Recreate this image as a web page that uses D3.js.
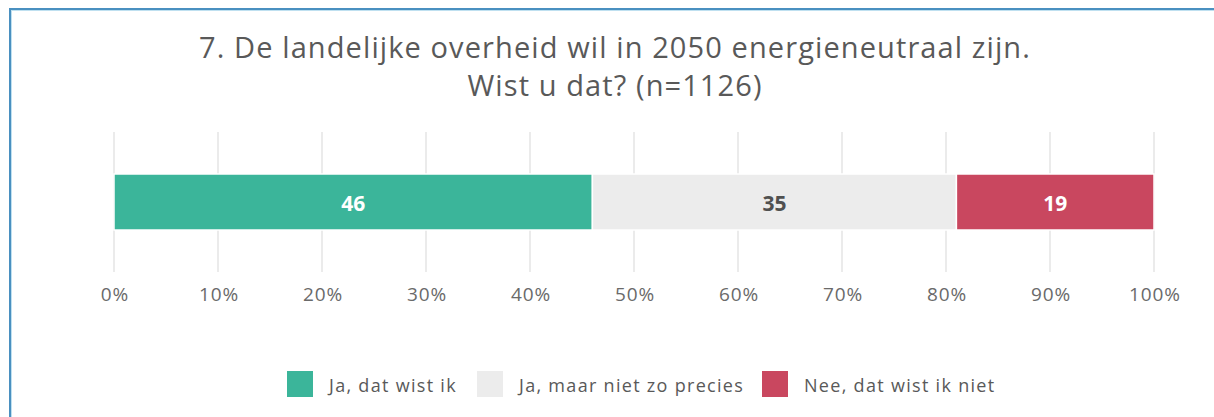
<!DOCTYPE html>
<html><head><meta charset="utf-8">
<script src="https://cdn.jsdelivr.net/npm/d3@7"></script>
<style>html,body{margin:0;padding:0;background:#fff;}svg{display:block;}</style>
</head><body>
<script>
const categories = ["Ja, dat wist ik", "Ja, maar niet zo precies", "Nee, dat wist ik niet"];
const values = [46, 35, 19];
const colors = ["#3bb59a", "#ececec", "#c9475f"];
const labelColors = ["#ffffff", "#505050", "#ffffff"];
const tickValues = [0, 10, 20, 30, 40, 50, 60, 70, 80, 90, 100];
const titleLines = ["7. De landelijke overheid wil in 2050 energieneutraal zijn.", "Wist u dat? (n=1126)"];

const W = 1214, H = 417;
const font = "'Open Sans', sans-serif";
const svg = d3.select("body").append("svg").attr("width", W).attr("height", H);

// frame
svg.append("rect").attr("x", 0).attr("y", 0).attr("width", W).attr("height", H).attr("fill", "#fff");
svg.append("line").attr("x1", 9).attr("x2", W).attr("y1", 9).attr("y2", 9).attr("stroke", "#4a90c0").attr("stroke-width", 2);
svg.append("line").attr("x1", 10).attr("x2", 10).attr("y1", 8).attr("y2", H).attr("stroke", "#4a90c0").attr("stroke-width", 2);
svg.append("line").attr("x1", 12).attr("x2", W).attr("y1", 10.5).attr("y2", 10.5).attr("stroke", "#bfe0f0").attr("stroke-width", 1);
svg.append("line").attr("x1", 11.5).attr("x2", 11.5).attr("y1", 10).attr("y2", H).attr("stroke", "#bfe0f0").attr("stroke-width", 1);

// title
svg.append("text").attr("text-anchor", "middle").attr("font-family", font)
  .attr("font-size", 29).attr("letter-spacing", "1.1px").attr("fill", "#595959")
  .selectAll("tspan").data(titleLines).join("tspan")
  .attr("x", 615).attr("y", (d, i) => 58 + i * 38).text(d => d);

const x = d3.scaleLinear().domain([0, 100]).range([114, 1154]);

// gridlines
svg.append("g").selectAll("line").data(tickValues).join("line")
  .attr("x1", d => x(d)).attr("x2", d => x(d)).attr("y1", 132).attr("y2", 272)
  .attr("stroke", "#e4e4e4").attr("stroke-width", 1.5);

// axis
const axis = d3.axisBottom(x).tickValues(tickValues).tickFormat(d => d + "%").tickSize(0).tickPadding(0);
const ag = svg.append("g").attr("transform", "translate(0,301)").call(axis);
ag.select(".domain").remove();
ag.selectAll("text").attr("font-family", font).attr("font-size", 19).attr("letter-spacing", "0.9px")
  .attr("fill", "#6a6a6a").attr("dy", "0").attr("dx", "0.45");

// stacked bar
let acc = 0;
const segs = values.map((v, i) => { const s = { i, v, x0: acc, x1: acc + v }; acc += v; return s; });
const barY = 174, barH = 56;
svg.append("g").selectAll("rect").data(segs).join("rect")
  .attr("x", d => x(d.x0)).attr("width", d => x(d.x1) - x(d.x0))
  .attr("y", barY).attr("height", barH).attr("fill", d => colors[d.i])
  .attr("stroke", "#fff").attr("stroke-width", 1.5);
svg.append("g").selectAll("text").data(segs).join("text")
  .attr("x", d => (x(d.x0) + x(d.x1)) / 2).attr("y", 211)
  .attr("text-anchor", "middle").attr("font-family", font).attr("font-weight", "bold")
  .attr("font-size", 21).attr("fill", d => labelColors[d.i]).text(d => d.v);

// legend
const legX = [287, 477, 762];
const lg = svg.append("g").selectAll("g").data(categories).join("g")
  .attr("transform", (d, i) => `translate(${legX[i]},371)`);
lg.append("rect").attr("width", 26).attr("height", 26).attr("fill", (d, i) => colors[i]);
lg.append("text").attr("x", 42).attr("y", 21).attr("font-family", font).attr("letter-spacing", "1.3px")
  .attr("font-size", 18).attr("fill", "#595959").text(d => d);
</script>
</body></html>
